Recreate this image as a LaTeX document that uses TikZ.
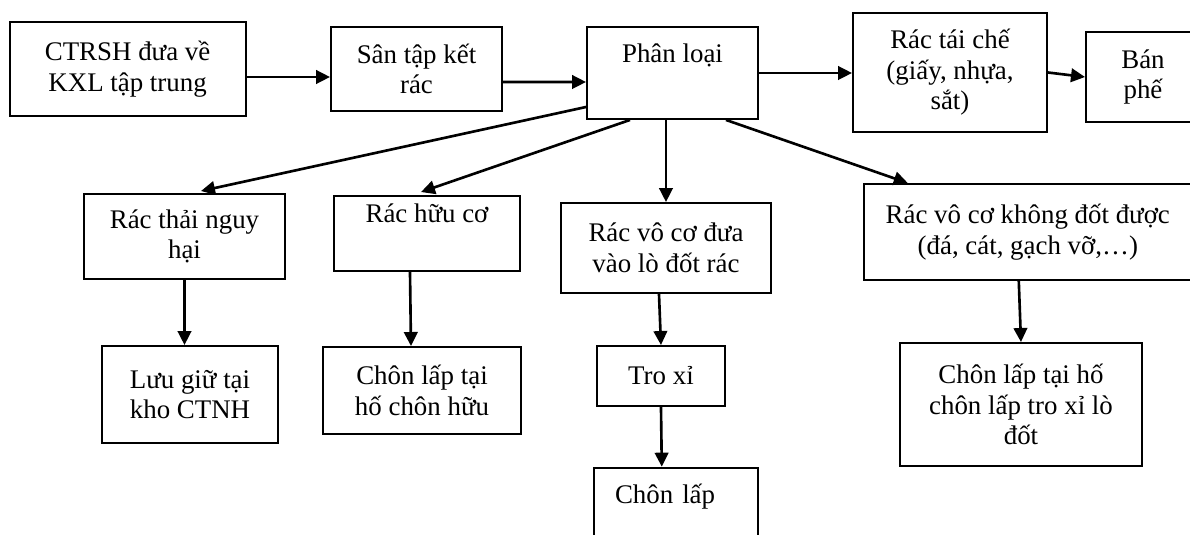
\documentclass[tikz,border=0pt]{standalone}
\usepackage{fontspec}
\setmainfont{Liberation Serif}
\usepackage{tikz}
\usetikzlibrary{arrows.meta,calc}
\usetikzlibrary{positioning}

\begin{document}
\begin{tikzpicture}[scale=0.2]
\tikzstyle{every node}+=[inner sep=0pt]
\tikzstyle{box}=[draw=black, line width=1.1pt, align=center, font=\fontsize{15.3}{17.4}\selectfont]
\tikzstyle{arr}=[black, line width=1.5pt, -{Triangle[length=0.28cm,width=0.27cm]}]
\useasboundingbox (0,0) rectangle (119,-53.5);
\node [box, minimum width=4.72cm, minimum height=1.88cm] (ctrsh) at (12.76,-6.9) {CTRSH đưa về\\KXL tập trung};
\node [box, minimum width=3.42cm, minimum height=1.68cm] (san) at (41.65,-6.9) {Sân tập kết\\rác};
\node [box, minimum width=3.42cm, minimum height=1.84cm] (phanloai) at (67.25,-7.3) {Phân loại\\\strut};
\node [box, minimum width=3.88cm, minimum height=2.38cm] (taiche) at (95.0,-7.25) {Rác tái chế\\(giấy, nhựa,\\sắt)};
\node [box, minimum width=2.28cm, minimum height=1.8cm] (banphe) at (114.3,-7.7) {Bán\\phế};
\node [box, minimum width=4.02cm, minimum height=1.7cm] (nguyhai) at (18.45,-23.65) {Rác thải nguy\\hại};
\node [box, minimum width=3.73cm, minimum height=1.5cm] (huuco) at (42.7,-23.35) {Rác hữu cơ\\\strut};
\node [box, minimum width=4.2cm, minimum height=1.8cm] (lodot) at (66.6,-24.8) {Rác vô cơ đưa\\vào lò đốt rác};
\node [box, minimum width=6.57cm, minimum height=1.92cm] (khongdot) at (102.78,-23.2) {Rác vô cơ không đốt được\\(đá, cát, gạch vỡ,…)};
\node [box, minimum width=3.52cm, minimum height=1.94cm] (luugiu) at (19.0,-39.45) {Lưu giữ tại\\kho CTNH};
\node [box, minimum width=3.96cm, minimum height=1.74cm] (chonhuu) at (42.2,-39.05) {Chôn lấp tại\\hố chôn hữu};
\node [box, minimum width=2.56cm, minimum height=1.2cm] (troxi) at (66.1,-37.6) {Tro xỉ};
\node [box, minimum width=3.27cm, minimum height=1.85cm, align=left, inner xsep=0.42cm, text width=2.43cm] (chonlap) at (67.58,-51.39) {Chôn lấp\\\strut};
\node [box, minimum width=4.84cm, minimum height=2.46cm] (chonlaptro) at (102.1,-40.45) {Chôn lấp tại hố\\chôn lấp tro xỉ lò\\đốt};
\draw [arr] ($(ctrsh.east)+(0,-0.8)$) -- ($(san.west)+(0,-0.8)$);
\draw [arr] ($(san.east)+(0,-1.3)$) -- ($(phanloai.west)+(0,-0.9)$);
\draw [arr] (phanloai.east) -- (phanloai.east -| taiche.west);
\draw [arr] (taiche.east) -- (banphe.west);
\draw [arr] ($(phanloai.west)+(0,-3.4)$) -- ($(nguyhai.north)+(1.65,0.2)$);
\draw [arr] ($(phanloai.south)+(-4.25,0)$) -- ($(huuco.north)+(-0.6,0.3)$);
\draw [arr] (phanloai.south -| lodot.north) -- (lodot.north);
\draw [arr] ($(phanloai.south)+(5.35,0)$) -- ($(khongdot.north)+(-12,0)$);
\draw [arr] (nguyhai.south) -- (nguyhai.south |- luugiu.north);
\draw [arr] ($(huuco.south)+(-1.7,0)$) -- ($(chonhuu.north)+(-1.1,0)$);
\draw [arr] ($(lodot.south)+(-0.7,0)$) -- (troxi.north);
\draw [arr] (troxi.south) -- ($(chonlap.north)+(-1.4,0)$);
\draw [arr] ($(khongdot.south)+(-0.9,0)$) -- (chonlaptro.north);
\end{tikzpicture}
\end{document}
